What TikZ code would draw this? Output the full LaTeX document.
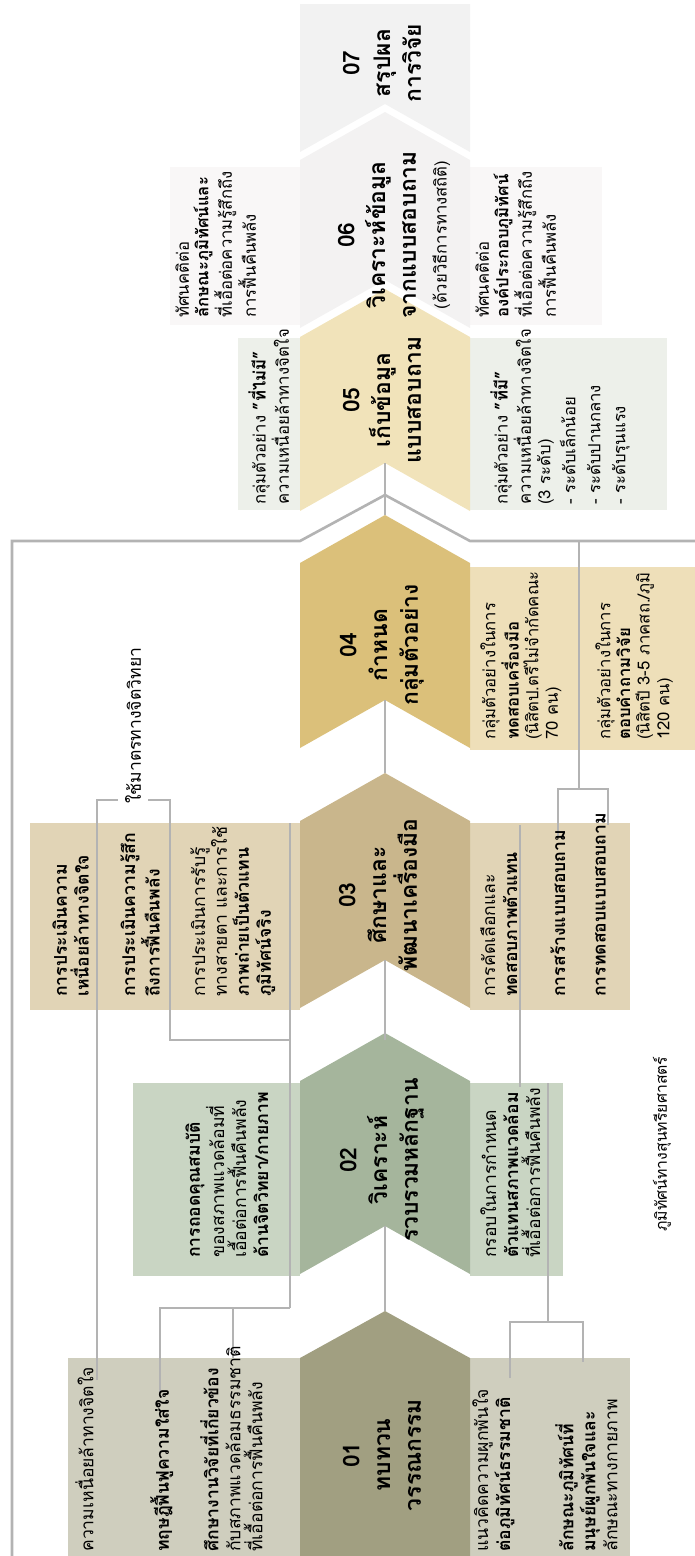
\documentclass[tikz,border=0pt]{standalone}
\usepackage{fontspec}
\setmainfont[Script=Thai]{Loma}
\definecolor{oneD}{HTML}{A19F81}
\definecolor{oneL}{HTML}{CFCEBE}
\definecolor{twoD}{HTML}{A5B59C}
\definecolor{twoL}{HTML}{C9D5C3}
\definecolor{threeD}{HTML}{C9B68C}
\definecolor{threeL}{HTML}{E1D4B6}
\definecolor{fourD}{HTML}{DBC07A}
\definecolor{fourL}{HTML}{EEDFB9}
\definecolor{fiveD}{HTML}{F1E3BA}
\definecolor{fiveL}{HTML}{EDF0EA}
\definecolor{sixD}{HTML}{F3F2F2}
\definecolor{sixL}{HTML}{F9F7F7}
\definecolor{sevenD}{HTML}{F2F2F2}
\definecolor{linkgray}{HTML}{B3B3B3}
\begin{document}
\begin{tikzpicture}[x=0.2mm,y=-0.2mm,
  txt/.style={rotate=90,anchor=north west,align=left,inner sep=0pt,font=\fontsize{10}{12.5}\selectfont},
  txs/.style={txt,font=\fontsize{9.5}{11.2}\selectfont},
  ttl/.style={rotate=90,align=center,inner sep=0pt,font=\bfseries\fontsize{13}{17.5}\selectfont},
  link/.style={linkgray,line width=1.5pt}]
\useasboundingbox (0,0) rectangle (695,1556);
% the side panels
\fill[oneL] (68,1358) rectangle (300,1556);
\fill[oneL] (470,1358) rectangle (630,1556);
\fill[twoL] (133,1083) rectangle (300,1276);
\fill[twoL] (470,1083) rectangle (563,1276);
\fill[threeL] (30,823) rectangle (300,1010);
\fill[threeL] (470,823) rectangle (630,1010);
\fill[fourL] (470,567) rectangle (695,750);
\fill[fiveL] (238,338) rectangle (300,510);
\fill[fiveL] (470,338) rectangle (667,510);
\fill[sixL] (170,167) rectangle (300,325);
\fill[sixL] (470,167) rectangle (602,325);
% the steps
\fill[oneD] (385,1311) -- (470,1358) -- (470,1556) -- (300,1556) -- (300,1358) -- cycle;
\foreach \t/\b/\c in {1033/1226/twoD,773/960/threeD,515/700/fourD,289/463/fiveD,112/280/sixD}
  \fill[\c] (385,\t) -- (470,\t+48) -- (470,\b+48) -- (385,\b) -- (300,\b+48) -- (300,\t+48) -- cycle;
\fill[sevenD] (300,4) -- (470,4) -- (470,152) -- (385,104) -- (300,152) -- cycle;
% spine
\coordinate (b05) at (385,463);
\coordinate (t04) at (385,515);
\coordinate (b04) at (385,700);
\coordinate (t03) at (385,773);
\coordinate (b03) at (385,960);
\coordinate (t02) at (385,1040);
\coordinate (b02) at (385,1226);
\coordinate (t01) at (385,1311);
\draw[link] (b05) -- (t04);
\draw[link] (b04) -- (t03);
\draw[link] (b03) -- (t02);
\draw[link] (b02) -- (t01);
% the long frame line
\coordinate (vtop) at (385,495);
\draw[link] (12,1556) |- (300,541) -- (vtop) -- (470,541) -- (695,541);
% psychometric bracket
\node[rotate=90,anchor=west,inner sep=1pt,font=\fontsize{10}{12}\selectfont] (psy) at (133,806) {ใช้มาตรทางจิตวิทยา};
\coordinate (pl) at (97,800);
\coordinate (pr) at (170,800);
\draw[link] (97,1380) -- (pl) -- (118,800);
\draw[link] (148,800) -- (pr) -- (170,1040) -- (290,1040);
\draw[link] (290,823) -- (290,1308);
\draw[link] (160,1393) |- (290,1308);
\draw[link] (233,1358) -- (233,1308);
% lower brackets
\draw[link] (548,1083) -- (548,1322);
\draw[link] (510,1378) |- (583,1322) -- (583,1362);
\draw[link] (520,825) -- (520,1087);
\draw[link] (558,837) |- (608,789) -- (608,825);
\draw[link] (579,789) -- (579,541);
% 01
\node[ttl] (s01) at (382,1455) {01\\ทบทวน\\วรรณกรรม};
\node[txt] (u01a) at (75,1552) {ความเหนื่อยล้าทางจิตใจ};
\node[txt] (u01b) at (150,1552) {\textbf{ทฤษฎีฟื้นฟูความใส่ใจ}};
\node[txt] (u01c) at (200,1552) {\textbf{ศึกษางานวิจัยที่เกี่ยวข้อง}\\กับสภาพแวดล้อมธรรมชาติ\\ที่เอื้อต่อการฟื้นคืนพลัง};
\node[txt] (l01a) at (472,1552) {แนวคิดความผูกพันใจ\\\textbf{ต่อภูมิทัศน์ธรรมชาติ}};
\node[txt] (l01b) at (555,1552) {\textbf{ลักษณะภูมิทัศน์ที่}\\\textbf{มนุษย์ผูกพันใจและ}\\ลักษณะทางกายภาพ};
% 02
\node[ttl] (s02) at (382,1160) {02\\วิเคราะห์\\รวบรวมหลักฐาน};
\node[txt] (u02) at (185,1258) {\textbf{การถอดคุณสมบัติ}\\ของสภาพแวดล้อมที่\\เอื้อต่อการฟื้นคืนพลัง\\\textbf{ด้านจิตวิทยา/กายภาพ}};
\node[txt] (l02) at (480,1258) {กรอบในการกำหนด\\\textbf{ตัวแทนสภาพแวดล้อม}\\ที่เอื้อต่อการฟื้นคืนพลัง};
% 03
\node[ttl] (s03) at (378,895) {03\\ศึกษาและ\\พัฒนาเครื่องมือ};
\node[txt] (u03a) at (52,997) {\textbf{การประเมินความ}\\\textbf{เหนื่อยล้าทางจิตใจ}};
\node[txt] (u03b) at (120,997) {\textbf{การประเมินความรู้สึก}\\\textbf{ถึงการฟื้นคืนพลัง}};
\node[txt] (u03c) at (190,997) {การประเมินการรับรู้\\ทางสายตา และการใช้\\\textbf{ภาพถ่ายเป็นตัวแทน}\\\textbf{ภูมิทัศน์จริง}};
\node[txt] (l03a) at (480,997) {การคัดเลือกและ\\\textbf{ทดสอบภาพตัวแทน}};
\node[txt] (l03b) at (550,997) {\textbf{การสร้างแบบสอบถาม}};
\node[txt] (l03c) at (595,997) {\textbf{การทดสอบแบบสอบถาม}};
% 04
\node[ttl] (s04) at (382,645) {04\\กำหนด\\กลุ่มตัวอย่าง};
\node[txs] (l04a) at (480,740) {กลุ่มตัวอย่างในการ\\\textbf{ทดสอบเครื่องมือ}\\(นิสิตป.ตรีไม่จำกัดคณะ\\70 คน)};
\node[txs] (l04b) at (595,740) {กลุ่มตัวอย่างในการ\\\textbf{ตอบคำถามวิจัย}\\(นิสิตปี 3-5 ภาคสถ./ภูมิ\\120 คน)};
% 05
\node[ttl] (s05) at (382,400) {05\\เก็บข้อมูล\\แบบสอบถาม};
\node[txs] (u05) at (248,505) {กลุ่มตัวอย่าง \textbf{"ที่ไม่มี"}\\ความเหนื่อยล้าทางจิตใจ};
\node[txs] (l05) at (490,505) {กลุ่มตัวอย่าง \textbf{"ที่มี"}\\ความเหนื่อยล้าทางจิตใจ\\(3 ระดับ)\\[3pt]- ระดับเล็กน้อย\\[3pt]- ระดับปานกลาง\\[3pt]- ระดับรุนแรง};
% 06
\node[ttl] (s06) at (394,235) {06\\วิเคราะห์ข้อมูล\\จากแบบสอบถาม\\{\mdseries\fontsize{9.5}{12}\selectfont(ด้วยวิธีการทางสถิติ)}};
\node[txs] (u06) at (175,318) {ทัศนคติต่อ\\\textbf{ลักษณะภูมิทัศน์และ}\\ที่เอื้อต่อความรู้สึกถึง\\การฟื้นคืนพลัง};
\node[txs] (l06) at (475,318) {ทัศนคติต่อ\\\textbf{องค์ประกอบภูมิทัศน์}\\ที่เอื้อต่อความรู้สึกถึง\\การฟื้นคืนพลัง};
% 07
\node[ttl] (s07) at (382,63) {07\\สรุปผล\\การวิจัย};
% source note
\node[rotate=90,anchor=west,inner sep=0pt,font=\fontsize{9}{11}\selectfont] (src) at (662,1232) {ภูมิทัศน์ทางสุนทรียศาสตร์};
\end{tikzpicture}
\end{document}
